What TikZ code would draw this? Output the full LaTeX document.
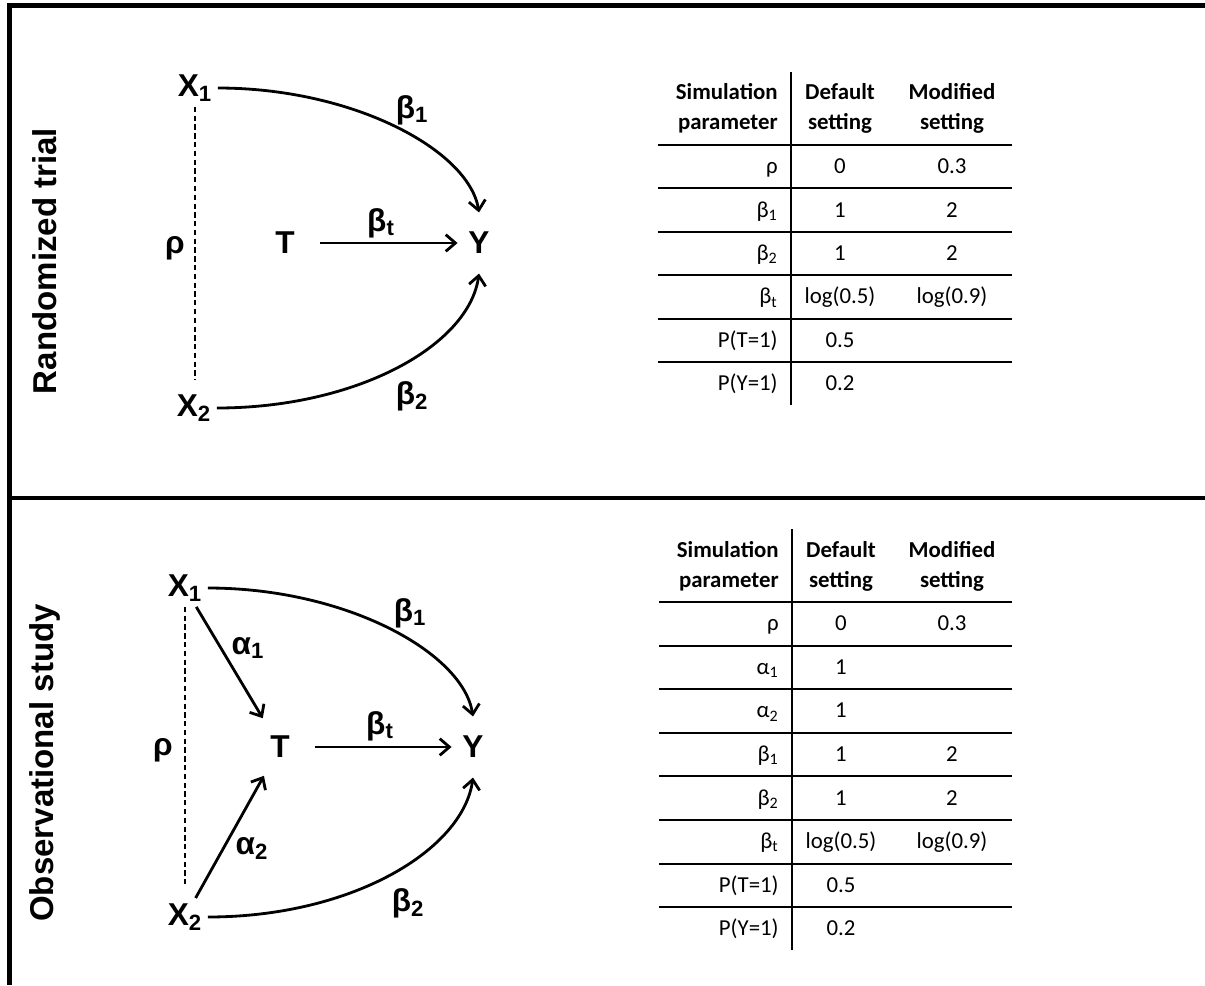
\documentclass[tikz,border=0pt]{standalone}
\usepackage{fontspec}
\setmainfont{Liberation Sans}
\newfontfamily\tabfont{Carlito}
\usetikzlibrary{arrows.meta}
\tikzset{
  var/.style={font=\fontsize{18}{21}\selectfont\bfseries, inner sep=3pt},
  coef/.style={font=\fontsize{18}{21}\selectfont\bfseries, inner sep=0pt},
  title/.style={font=\fontsize{18.8}{22}\selectfont\bfseries, rotate=90},
  arr/.style={-{Straight Barb[length=5.5pt,width=9.5pt]}, line width=1.6pt},
  corr/.style={densely dashed, line width=0.6pt},
  frame/.style={line width=2.3pt},
  cell/.style={font=\tabfont\fontsize{13}{17}\selectfont, inner sep=0pt,
    text height=9.5pt, text depth=3pt},
  hdr/.style={font=\tabfont\bfseries\fontsize{13}{17}\selectfont, inner sep=0pt},
  rule/.style={line width=1.1pt}
}
\begin{document}
\begin{tikzpicture}[x=0.02cm, y=-0.02cm]
  \useasboundingbox (0,0) rectangle (1205,985);

  % Outer frame and divider
  \draw[frame] (1205,5.5) -- (9.5,5.5) -- (9.5,985);
  \draw[frame] (9.5,498) -- (1205,498);

  % Randomized trial: diagram
  \node[title] (rtitle) at (45,261) {Randomized trial};
  \node[var] (rx1) at (195,88) {X\textsubscript{1}};
  \node[var] (rx2) at (194,408) {X\textsubscript{2}};
  \node[var, inner xsep=14pt, inner ysep=10pt] (rt) at (285,243) {T};
  \node[var, inner xsep=6pt, inner ysep=11pt] (ry) at (479,243) {Y};
  \node[coef] (rrho) at (175,248) {ρ};
  \draw[corr, shorten >=5pt] (rx1.south) -- (rx1.south |- rx2.north);
  \draw[arr] (rt) -- (ry);
  \draw[arr] (rx1.east) .. controls +(136,0) and +(-10,-62) .. (ry.north);
  \draw[arr] (rx2.east) .. controls +(140,0) and +(-10,72) .. (ry.south);
  \node[coef] (rb1) at (412,110) {β\textsubscript{1}};
  \node[coef] (rbt) at (381,223) {β\textsubscript{t}};
  \node[coef] (rb2) at (412,396) {β\textsubscript{2}};

  % Randomized trial: table
  \node[hdr, align=right, anchor=east] (rhp) at (778,108) {Simulation\\parameter};
  \node[hdr, align=center] (rhd) at (840,108) {Default\\setting};
  \node[hdr, align=center] (rhm) at (952,108) {Modified\\setting};
  \draw[rule] (791,72) -- (791,405);
  \foreach \p/\d/\m [count=\i] in {ρ/0/0.3, β\textsubscript{1}/1/2, β\textsubscript{2}/1/2,
      β\textsubscript{t}/log(0.5)/log(0.9), P(T=1)/0.5/, P(Y=1)/0.2/}{
    \draw[rule] (658,{145+43.4*(\i-1)}) -- (1012,{145+43.4*(\i-1)});
    \node[cell, anchor=east] (rp\i) at (778,{168+43.4*(\i-1)}) {\p};
    \node[cell] (rd\i) at (840,{168+43.4*(\i-1)}) {\d};
    \node[cell] (rm\i) at (952,{168+43.4*(\i-1)}) {\m};
  }

  % Observational study: diagram
  \node[title] (otitle) at (45,763) {Observational study};
  \node[var] (ox1) at (185,588) {X\textsubscript{1}};
  \node[var] (ox2) at (185,917) {X\textsubscript{2}};
  \node[var, inner xsep=14pt, inner ysep=10pt] (ot) at (280,747) {T};
  \node[var, inner xsep=6pt, inner ysep=11pt] (oy) at (473,747) {Y};
  \node[coef] (orho) at (163,750) {ρ};
  \draw[corr, shorten >=8pt] (ox1.south) -- (ox1.south |- ox2.north);
  \draw[arr] (ox1) -- (ot);
  \draw[arr] (ox2) -- (ot);
  \draw[arr] (ot) -- (oy);
  \draw[arr] (ox1.east) .. controls +(138,0) and +(-10,-64) .. (oy.north);
  \draw[arr] (ox2.east) .. controls +(145,0) and +(-10,72) .. (oy.south);
  \node[coef] (oa1) at (248,648) {α\textsubscript{1}};
  \node[coef] (oa2) at (252,848) {α\textsubscript{2}};
  \node[coef] (ob1) at (410,613) {β\textsubscript{1}};
  \node[coef] (obt) at (380,726) {β\textsubscript{t}};
  \node[coef] (ob2) at (408,903) {β\textsubscript{2}};

  % Observational study: table
  \node[hdr, align=right, anchor=east] (ohp) at (779,566) {Simulation\\parameter};
  \node[hdr, align=center] (ohd) at (841,566) {Default\\setting};
  \node[hdr, align=center] (ohm) at (952,566) {Modified\\setting};
  \draw[rule] (792,529) -- (792,950);
  \foreach \p/\d/\m [count=\i] in {ρ/0/0.3, α\textsubscript{1}/1/, α\textsubscript{2}/1/,
      β\textsubscript{1}/1/2, β\textsubscript{2}/1/2, β\textsubscript{t}/log(0.5)/log(0.9),
      P(T=1)/0.5/, P(Y=1)/0.2/}{
    \draw[rule] (659,{602+43.6*(\i-1)}) -- (1012,{602+43.6*(\i-1)});
    \node[cell, anchor=east] (op\i) at (779,{625+43.6*(\i-1)}) {\p};
    \node[cell] (od\i) at (841,{625+43.6*(\i-1)}) {\d};
    \node[cell] (om\i) at (952,{625+43.6*(\i-1)}) {\m};
  }
\end{tikzpicture}
\end{document}
